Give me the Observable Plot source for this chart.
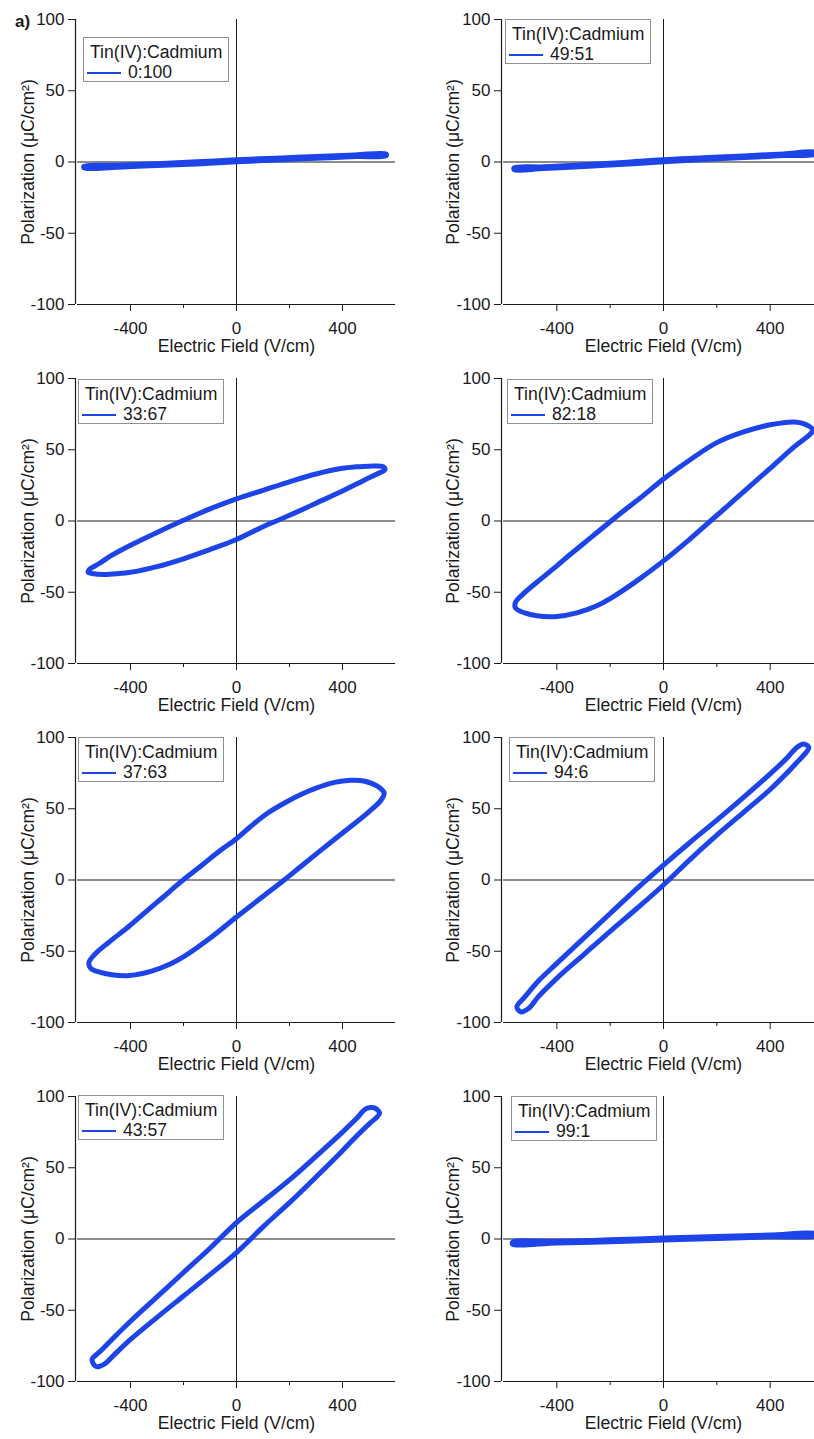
<!DOCTYPE html>
<html>
<head>
<meta charset="utf-8">
<script src="https://cdn.jsdelivr.net/npm/d3@7"></script>
<script src="https://cdn.jsdelivr.net/npm/@observablehq/plot@0.6"></script>
<style>
  body { margin: 0; background: #fff; }
  #fig {
    position: relative; width: 814px; height: 1439px; overflow: hidden;
    font-family: "Liberation Sans", Arial, sans-serif; color: #1a1a1a;
  }
  .panel { position: absolute; height: 360px; }
  .panel svg { overflow: visible; max-width: none !important; }
  .legend {
    position: absolute; box-sizing: border-box; width: 146px; height: 45px;
    border: 1px solid #8f8f8f; background: #fff;
    padding: 4px 0 0 6px; font-size: 17.6px; line-height: 20px; white-space: nowrap;
  }
  .legend .swatch {
    display: inline-block; width: 34px; height: 0; border-top: 2px solid #1c44e8;
    vertical-align: middle; margin-left: -3px; margin-right: 7px;
  }
  .tag { position: absolute; left: 15px; top: 12px; font-size: 17px; font-weight: bold; line-height: 20px; }
</style>
</head>
<body>
<div id="fig"><div class="tag">a)</div></div>
<script>
// Polarization–field loops, P in µC/cm², E in V/cm.
// Each loop: upper branch (field sweeping down), then lower branch (field sweeping up).
const ratios = ["0:100", "49:51", "33:67", "82:18", "37:63", "94:6", "43:57", "99:1"];

const loop0_100 = [
  [565, 5.6], [450, 5.0], [300, 3.9], [150, 2.7], [0, 1.6], [-150, 0.1], [-300, -1.2], [-450, -2.3], [-575, -3.0],
  [-575, -4.2], [-450, -3.6], [-300, -2.5], [-150, -1.4], [0, 0.1], [150, 1.4], [300, 2.6], [450, 3.8], [565, 4.4]
];
const loop49_51 = [
  [570, 6.8], [450, 5.7], [300, 4.3], [150, 2.9], [0, 1.6], [-150, -0.3], [-300, -2.0], [-450, -3.4], [-560, -4.0],
  [-560, -5.4], [-450, -4.6], [-300, -3.2], [-150, -1.6], [0, 0.2], [150, 1.7], [300, 3.1], [450, 4.5], [570, 5.4]
];
const loop33_67 = [
  [555, 38], [500, 38.5], [450, 38], [400, 37], [300, 33], [200, 27.5], [100, 21.5], [0, 15.5], [-100, 8.5],
  [-200, 0.5], [-300, -8], [-400, -17], [-470, -24], [-520, -30], [-555, -34],
  [-560, -36], [-540, -37], [-500, -37.5], [-450, -37], [-400, -36], [-300, -32], [-200, -26.5], [-100, -20],
  [0, -13], [100, -4], [150, 0], [200, 4], [300, 12.5], [400, 21], [480, 28.5], [530, 33], [560, 36]
];
const loop82_18 = [
  [560, 64], [530, 68], [490, 69.5], [400, 67.5], [300, 62.5], [200, 55], [100, 43], [0, 29.5], [-75, 18],
  [-150, 7], [-200, -0.5], [-275, -12], [-350, -23.5], [-400, -31.5], [-475, -43], [-525, -51], [-555, -57],
  [-555, -61], [-520, -64.5], [-475, -66.5], [-400, -67], [-325, -64.5], [-250, -59.5], [-200, -54.5], [-100, -42],
  [0, -28], [100, -12.5], [176, 0], [240, 10.5], [300, 20.5], [400, 37], [490, 52], [550, 61]
];
const loop37_63 = [
  [557, 61], [530, 66], [480, 69.5], [430, 70], [370, 68.5], [300, 64.5], [243, 60], [200, 56], [118, 47],
  [50, 37], [0, 29], [-70, 19.5], [-133, 10], [-208, -1], [-283, -13], [-359, -25], [-409, -33],
  [-484, -44], [-534, -52], [-557, -58],
  [-550, -62], [-520, -64.5], [-470, -66.5], [-403, -67], [-320, -64], [-250, -59], [-196, -53.5],
  [-108, -42], [0, -26], [93, -12.5], [180, 0], [243, 9.5], [306, 19], [400, 33], [494, 47], [545, 56]
];
const loop94_6 = [
  [545, 93], [525, 95.5], [500, 93], [460, 85], [400, 74.5], [300, 58], [200, 42], [100, 26.5], [0, 10.5],
  [-100, -6], [-200, -23.5], [-300, -41], [-400, -58.5], [-470, -71], [-520, -82], [-550, -89],
  [-535, -92.5], [-505, -90], [-470, -82], [-400, -69], [-300, -52.5], [-200, -36], [-100, -20],
  [0, -3.5], [100, 14.5], [200, 31.5], [300, 47.5], [400, 63.5], [460, 74.5], [500, 82.5], [530, 88.5]
];
const loop43_57 = [
  [540, 88.5], [520, 92], [490, 91.5], [450, 84], [400, 75], [300, 58], [200, 41.5], [100, 26.5], [0, 11.5],
  [-100, -6.5], [-200, -23.5], [-300, -40.6], [-400, -57.7], [-470, -70.5], [-515, -79], [-545, -84.5],
  [-530, -89.5], [-500, -88], [-460, -81], [-400, -70.5], [-300, -55], [-200, -40], [-100, -25], [0, -9.5],
  [100, 8.5], [200, 25.5], [300, 43.5], [400, 62], [460, 73.5], [505, 81.5], [530, 85.5]
];
const loop99_1 = [
  [570, 3.6], [400, 2.8], [200, 1.7], [0, 0.7], [-200, -0.6], [-400, -1.6], [-566, -2.2],
  [-566, -3.6], [-400, -2.8], [-200, -1.9], [0, -0.7], [200, 0.4], [400, 1.5], [570, 2.3]
];

const loops = [loop0_100, loop49_51, loop33_67, loop82_18, loop37_63, loop94_6, loop43_57, loop99_1];

const fieldDomain = [-600, 600];
const polDomain = [-100, 100];
const xMajor = [-400, 0, 400];
const xMinor = [-200, 200];
const yMajor = [-100, -50, 0, 50, 100];
const legendTitle = "Tin(IV):Cadmium";
const xLabel = "Electric Field (V/cm)";
const yLabel = "Polarization (μC/cm²)";

const blue = "#1c44e8";
const ink = "#1a1a1a";
const font = '"Liberation Sans", Arial, sans-serif';

// Page layout: two columns, four rows
const rowTop = [0, 359, 718, 1077];
const colLeft = [0, 410];
const legendPos = [
  [83, 37], [505, 19], [78, 379], [507, 379], [78, 737], [509, 737], [78, 1095], [511, 1096]
];

function panel(loop, col) {
  const left = col === 0;
  const marginLeft = left ? 77 : 93;
  const width = left ? 410 : 420;
  return Plot.plot({
    width, height: 360,
    marginLeft, marginRight: left ? 15 : 7, marginTop: 19, marginBottom: 56,
    style: { fontFamily: font, fontSize: "17px", color: ink, background: "transparent", overflow: "visible" },
    x: { domain: fieldDomain },
    y: { domain: polDomain },
    marks: [
      Plot.ruleX([0], { stroke: ink, strokeWidth: 1 }),
      Plot.ruleY([0], { stroke: ink, strokeWidth: 1 }),
      Plot.line(loop, { x: d => d[0], y: d => d[1], curve: "catmull-rom-closed", stroke: blue, strokeWidth: 5, strokeLinejoin: "round" }),
      Plot.ruleX([fieldDomain[0]], { stroke: ink, strokeWidth: 1.2, dx: -2 }),
      Plot.ruleY([polDomain[0]], { stroke: ink, strokeWidth: 1.2 }),
      Plot.axisY({ ticks: yMajor, tickSize: 7, tickPadding: 4, dx: -2, label: null, tickFormat: d => String(d), stroke: ink, fontSize: 17 }),
      Plot.axisX({ ticks: xMajor, tickSize: 7, tickPadding: 10, label: null, tickFormat: d => String(d), stroke: ink, fontSize: 17 }),
      Plot.axisX({ ticks: xMinor, tickSize: 4, text: null, label: null, stroke: ink }),
      Plot.text([yLabel], { text: d => d, frameAnchor: "left", textAnchor: "middle", rotate: -90, dx: left ? -49 : -50, fontSize: 17.6, fill: ink }),
      Plot.text([xLabel], { text: d => d, frameAnchor: "bottom", dy: 47, fontSize: 17.6, fill: ink })
    ]
  });
}

const fig = document.getElementById("fig");
loops.forEach((loop, i) => {
  const col = i % 2, row = Math.floor(i / 2);
  const wrap = document.createElement("div");
  wrap.className = "panel";
  wrap.style.left = colLeft[col] + "px";
  wrap.style.top = rowTop[row] + "px";
  wrap.style.width = (col === 0 ? 410 : 420) + "px";
  wrap.appendChild(panel(loop, col));
  fig.appendChild(wrap);

  const lg = document.createElement("div");
  lg.className = "legend";
  lg.style.left = legendPos[i][0] + "px";
  lg.style.top = legendPos[i][1] + "px";
  lg.innerHTML = `<div>${legendTitle}</div><div><span class="swatch"></span>${ratios[i]}</div>`;
  fig.appendChild(lg);
});
</script>
</body>
</html>
